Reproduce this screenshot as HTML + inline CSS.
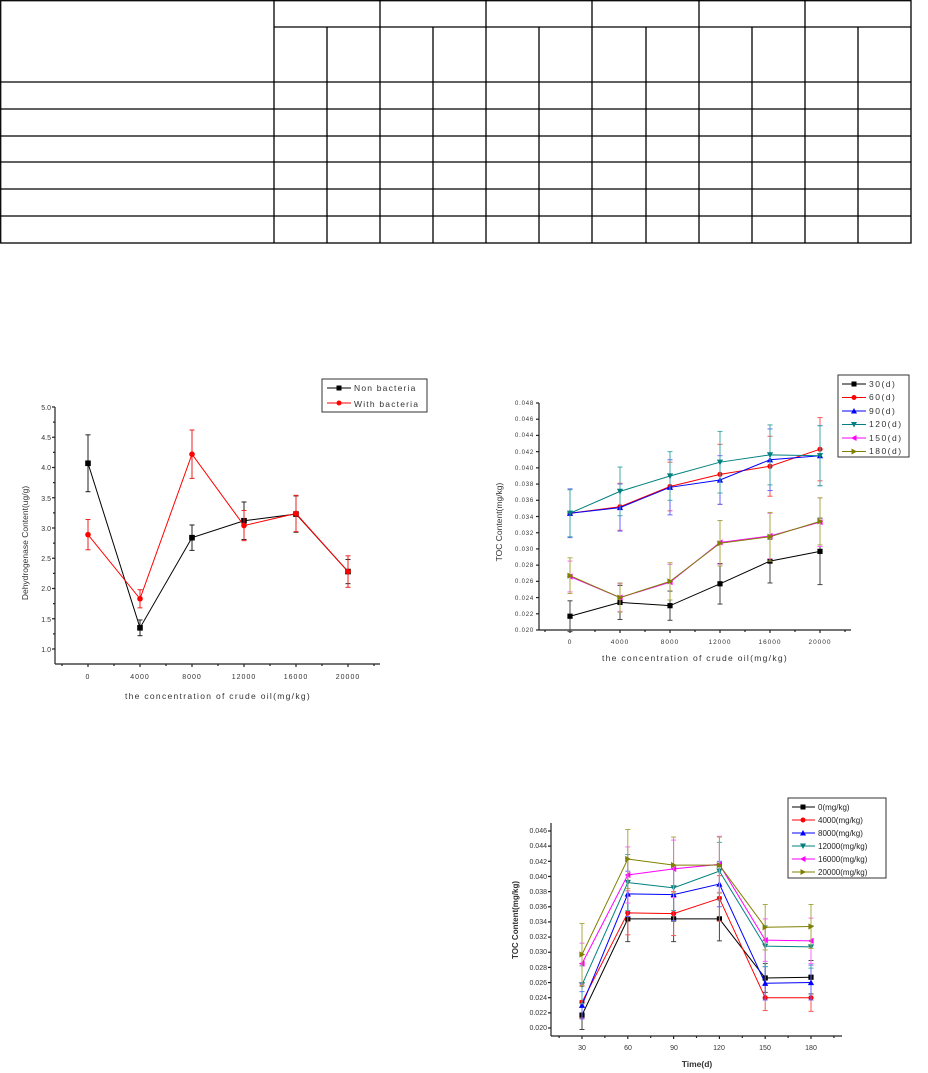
<!DOCTYPE html>
<html><head><meta charset="utf-8"><style>
html,body{margin:0;padding:0;background:#fff;}
svg{display:block;font-family:"Liberation Sans",sans-serif;}
</style></head><body>
<svg id="s" width="928" height="1073" viewBox="0 0 928 1073" xmlns="http://www.w3.org/2000/svg">
<rect width="928" height="1073" fill="#fff"/>
<g id="tbl" stroke="#000" stroke-width="1.3" fill="none"></g>

<!-- Chart 1 -->
<g font-size="7" fill="#333" text-anchor="end">
<text x="51" y="410">5.0</text><text x="51" y="440">4.5</text><text x="51" y="470">4.0</text><text x="51" y="501">3.5</text><text x="51" y="531">3.0</text><text x="51" y="561">2.5</text><text x="51" y="591">2.0</text><text x="51" y="622">1.5</text><text x="51" y="652">1.0</text>
</g>
<g font-size="7" fill="#333" text-anchor="middle" letter-spacing="1">
<text x="88" y="679">0</text><text x="140" y="679">4000</text><text x="192" y="679">8000</text><text x="244" y="679">12000</text><text x="296" y="679">16000</text><text x="348" y="679">20000</text>
</g>
<text x="218" y="699" font-size="8.5" fill="#333" text-anchor="middle" letter-spacing="1.3">the concentration of crude oil(mg/kg)</text>
<text transform="translate(28,543) rotate(-90)" font-size="8.5" fill="#333" text-anchor="middle">Dehydrogenase Content(ug/g)</text>
<rect x="322" y="379" width="105" height="33" fill="#fff" stroke="#333" stroke-width="1"/>
<text x="354" y="391" font-size="8.5" fill="#333" letter-spacing="1.2">Non bacteria</text>
<text x="354" y="407" font-size="8.5" fill="#333" letter-spacing="1.2">With bacteria</text>

<!-- Chart 2 -->
<g font-size="6" fill="#333" text-anchor="end" letter-spacing="0.8">
<text x="534" y="405">0.048</text><text x="534" y="421">0.046</text><text x="534" y="437">0.044</text><text x="534" y="454">0.042</text><text x="534" y="470">0.040</text><text x="534" y="486">0.038</text><text x="534" y="502">0.036</text><text x="534" y="519">0.034</text><text x="534" y="535">0.032</text><text x="534" y="551">0.030</text><text x="534" y="567">0.028</text><text x="534" y="583">0.026</text><text x="534" y="600">0.024</text><text x="534" y="616">0.022</text><text x="534" y="632">0.020</text>
</g>
<g font-size="6.5" fill="#333" text-anchor="middle" letter-spacing="1">
<text x="570" y="644">0</text><text x="620" y="644">4000</text><text x="670" y="644">8000</text><text x="720" y="644">12000</text><text x="770" y="644">16000</text><text x="820" y="644">20000</text>
</g>
<text x="695" y="661" font-size="8.5" fill="#333" text-anchor="middle" letter-spacing="1.3">the concentration of crude oil(mg/kg)</text>
<text transform="translate(502,522) rotate(-90)" font-size="8.5" fill="#333" text-anchor="middle">TOC Content(mg/kg)</text>
<rect x="838" y="375" width="71" height="82" fill="#fff" stroke="#333" stroke-width="1"/>
<g font-size="8.5" fill="#333" letter-spacing="1.5">
<text x="869" y="387">30(d)</text><text x="869" y="400">60(d)</text><text x="869" y="414">90(d)</text><text x="869" y="427">120(d)</text><text x="869" y="441">150(d)</text><text x="869" y="454">180(d)</text>
</g>

<!-- Chart 3 -->
<g font-size="7" fill="#333" text-anchor="end">
<text x="547" y="833">0.046</text><text x="547" y="848">0.044</text><text x="547" y="864">0.042</text><text x="547" y="879">0.040</text><text x="547" y="894">0.038</text><text x="547" y="909">0.036</text><text x="547" y="924">0.034</text><text x="547" y="939">0.032</text><text x="547" y="954">0.030</text><text x="547" y="970">0.028</text><text x="547" y="985">0.026</text><text x="547" y="1000">0.024</text><text x="547" y="1015">0.022</text><text x="547" y="1030">0.020</text>
</g>
<g font-size="7" fill="#333" text-anchor="middle">
<text x="582" y="1050">30</text><text x="628" y="1050">60</text><text x="674" y="1050">90</text><text x="719" y="1050">120</text><text x="765" y="1050">150</text><text x="811" y="1050">180</text>
</g>
<text x="697" y="1067" font-size="8.5" font-weight="bold" fill="#333" text-anchor="middle">Time(d)</text>
<text transform="translate(518,920) rotate(-90)" font-size="8" font-weight="bold" fill="#333" text-anchor="middle">TOC Content(mg/kg)</text>
<rect x="788" y="798" width="98" height="80" fill="#fff" stroke="#333" stroke-width="1"/>
<g font-size="8" fill="#222">
<text x="818" y="810">0(mg/kg)</text><text x="818" y="823">4000(mg/kg)</text><text x="818" y="836">8000(mg/kg)</text><text x="818" y="849">12000(mg/kg)</text><text x="818" y="862">16000(mg/kg)</text><text x="818" y="875">20000(mg/kg)</text>
</g>
<g id="plots"></g>
</svg>
<script>
var NS="http://www.w3.org/2000/svg";
function el(p,t,a){var e=document.createElementNS(NS,t);for(var k in a)e.setAttribute(k,a[k]);p.appendChild(e);return e;}
var T=document.getElementById('tbl');
var cols=[0,274,327,380,433,486,539,592,646,699,752,805,858,911];
var rows=[0,27,82,109,136,162,189,216,243];
el(T,'rect',{x:0.7,y:0.7,width:910.3,height:242.3});
rows.slice(2,8).forEach(function(y){el(T,'line',{x1:0,x2:911,y1:y,y2:y});});
el(T,'line',{x1:274,x2:911,y1:27,y2:27});
cols.slice(1,13).forEach(function(x,i){var idx=i+1;var top=(idx%2==1)?0:27;el(T,'line',{x1:x,x2:x,y1:top,y2:243});});
var P=document.getElementById('plots');
function marker(g,type,x,y,c,s){
 s=s||2.6;
 if(type=='sq')el(g,'rect',{x:x-s,y:y-s,width:2*s,height:2*s,fill:c});
 else if(type=='ci')el(g,'circle',{cx:x,cy:y,r:s,fill:c});
 else if(type=='up')el(g,'polygon',{points:[x,y-s-0.5,x-s-0.5,y+s,x+s+0.5,y+s].join(' '),fill:c});
 else if(type=='dn')el(g,'polygon',{points:[x,y+s+0.5,x-s-0.5,y-s,x+s+0.5,y-s].join(' '),fill:c});
 else if(type=='lf')el(g,'polygon',{points:[x-s-0.5,y,x+s,y-s-0.5,x+s,y+s+0.5].join(' '),fill:c});
 else if(type=='rt')el(g,'polygon',{points:[x+s+0.5,y,x-s,y-s-0.5,x-s,y+s+0.5].join(' '),fill:c});
}
function axes(L,Tp,R,B,xt,minor,yt,yminor){
 var g=el(P,'g',{stroke:'#222','stroke-width':1.2});
 el(g,'line',{x1:L,x2:L,y1:Tp,y2:B});el(g,'line',{x1:L,x2:R,y1:B,y2:B});
 xt.forEach(function(x){el(g,'line',{x1:x,x2:x,y1:B,y2:B+3});});
 minor.forEach(function(x){if(x>L&&x<=R)el(g,'line',{x1:x,x2:x,y1:B,y2:B+2});});
 yt.forEach(function(y){el(g,'line',{x1:L,x2:L-3,y1:y,y2:y});});
 yminor.forEach(function(y){el(g,'line',{x1:L,x2:L-2,y1:y,y2:y});});
}
function series(xs,ys,es,X,Y,c,ec,m,s){
 var g=el(P,'g',{});
 var pts=xs.map(function(x,i){return X(x)+','+Y(ys[i]);}).join(' ');
 el(g,'polyline',{points:pts,fill:'none',stroke:c,'stroke-width':1});
 xs.forEach(function(x,i){var px=X(x),a=Y(ys[i]+es[i]),b=Y(ys[i]-es[i]);
  el(g,'line',{x1:px,x2:px,y1:a,y2:b,stroke:ec,'stroke-width':1});
  el(g,'line',{x1:px-2.5,x2:px+2.5,y1:a,y2:a,stroke:ec,'stroke-width':1});
  el(g,'line',{x1:px-2.5,x2:px+2.5,y1:b,y2:b,stroke:ec,'stroke-width':1});
  marker(g,m,px,Y(ys[i]),c,s);});
}
function range(a,b,st){var r=[];for(var v=a;v<=b+1e-9;v+=st)r.push(v);return r;}
// Chart1
(function(){
 var X=function(v){return 88+v*(260/20000);},Y=function(v){return 649-(v-1)*60.5;};
 var xt=[0,4000,8000,12000,16000,20000].map(X);
 var mn=range(-2000,22000,4000).map(X);
 axes(55,407,380,664,xt,mn,range(1,5,0.5).map(Y),range(1.25,5,0.5).map(Y));
 var xs=[0,4000,8000,12000,16000,20000];
 series(xs,[4.07,1.35,2.84,3.12,3.23,2.28],[0.47,0.13,0.21,0.31,0.3,0.2],X,Y,'#000','#222','sq',2.8);
 series(xs,[2.89,1.83,4.22,3.04,3.24,2.28],[0.25,0.15,0.4,0.25,0.3,0.26],X,Y,'#f00','#e22','ci',2.8);
 var g=el(P,'g',{});
 el(g,'line',{x1:327,x2:351,y1:388,y2:388,stroke:'#000'});marker(g,'sq',339,388,'#000',2.5);
 el(g,'line',{x1:327,x2:351,y1:403,y2:403,stroke:'#f00'});marker(g,'ci',339,403,'#f00',2.5);
})();
var D={
 s30:[[.0217,.0234,.0230,.0257,.0285,.0297],[.0019,.0021,.0018,.0025,.0027,.0041]],
 s60:[[.0344,.0352,.0377,.0392,.0402,.0423],[.003,.0029,.003,.0037,.0037,.0039]],
 s90:[[.0344,.0351,.0376,.0385,.0410,.0415],[.003,.0029,.0034,.003,.0038,.0037]],
 s120:[[.0344,.0371,.0390,.0407,.0416,.0415],[.0029,.003,.003,.0038,.0037,.0037]],
 s150:[[.0266,.0240,.0259,.0308,.0316,.0333],[.0019,.0017,.0022,.0027,.0028,.003]],
 s180:[[.0267,.0240,.0260,.0307,.0315,.0334],[.0022,.0018,.0023,.0028,.003,.0029]]};
var cols6=['#000','#f00','#00f','#008080','#f0f','#808000'];
var ecs=['#444','#f55','#66f','#4aa','#f6f','#aa4'];
var mk=['sq','ci','up','dn','lf','rt'];
var keys=['s30','s60','s90','s120','s150','s180'];
// Chart2
(function(){
 var X=function(v){return 570+v*(250/20000);},Y=function(v){return 630-(v-0.020)*(227/0.028);};
 var xs=[0,4000,8000,12000,16000,20000];
 axes(539,403,851,630,xs.map(X),range(-2000,22000,4000).map(X),range(0.020,0.048,0.002).map(Y),[]);
 keys.forEach(function(k,i){series(xs,D[k][0],D[k][1],X,Y,cols6[i],ecs[i],mk[i],2.6);});
 var g=el(P,'g',{});
 for(var i=0;i<6;i++){var y=384+i*13.5;el(g,'line',{x1:842,x2:866,y1:y,y2:y,stroke:cols6[i]});marker(g,mk[i],854,y,cols6[i],2.5);}
})();
// Chart3
(function(){
 var X=function(v){return 582+(v-30)*(229/150);},Y=function(v){return 1028-(v-0.020)*(197/0.026);};
 var xs=[30,60,90,120,150,180];
 axes(551,823,842,1036,xs.map(X),range(15,195,30).map(X),range(0.020,0.046,0.002).map(Y),[]);
 for(var i=0;i<6;i++){
  var ys=keys.map(function(k){return D[k][0][i];}),es=keys.map(function(k){return D[k][1][i];});
  series(xs,ys,es,X,Y,cols6[i],ecs[i],mk[i],2.6);}
 var g=el(P,'g',{});
 for(var i=0;i<6;i++){var y=807+i*13;el(g,'line',{x1:792,x2:815,y1:y,y2:y,stroke:cols6[i]});marker(g,mk[i],803,y,cols6[i],2.5);}
})();
</script>
</body></html>
